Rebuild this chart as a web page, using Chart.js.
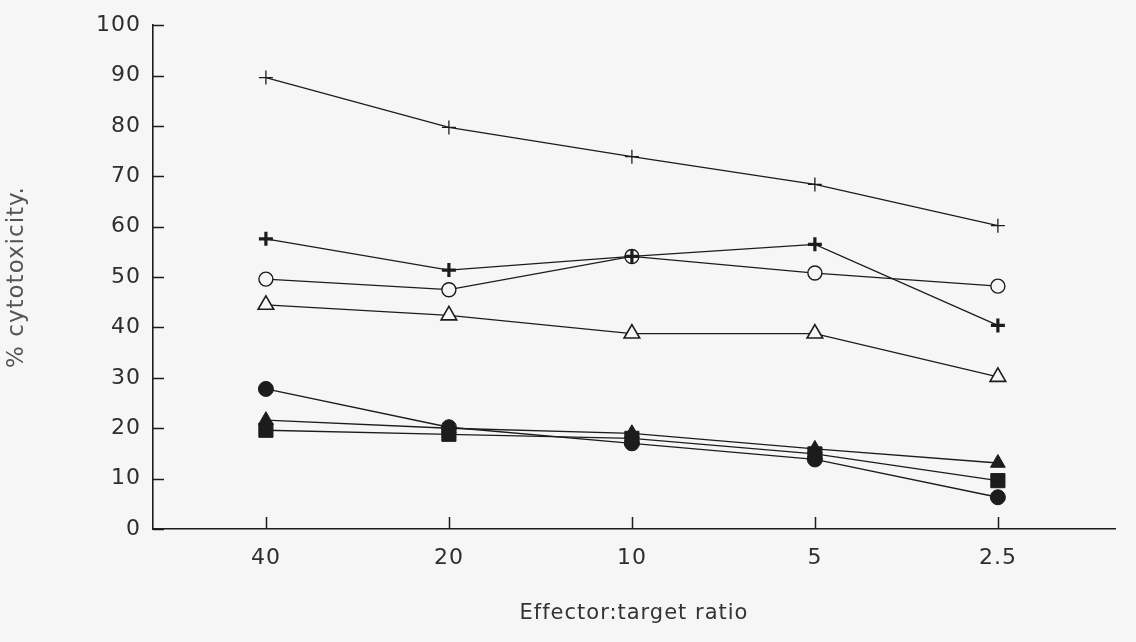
<!DOCTYPE html>
<html>
<head>
<meta charset="utf-8">
<script src="https://cdn.jsdelivr.net/npm/chart.js@4.4.1/dist/chart.umd.min.js"></script>
<style>
  html, body { margin: 0; padding: 0; background: #f6f6f6; }
  #wrap { width: 1136px; height: 642px; }
</style>
</head>
<body>
<div id="wrap"><canvas id="c" width="1136" height="642"></canvas></div>
<script>
// ---- data ----
const categories = ['40', '20', '10', '5', '2.5'];        // effector:target ratio
const yTicks = [0, 10, 20, 30, 40, 50, 60, 70, 80, 90, 100];
const thinPlus      = [89.6, 79.7, 73.9, 68.4, 60.2];
const boldPlus      = [57.6, 51.4, 54.1, 56.5, 40.4];
const openCircle    = [49.6, 47.5, 54.1, 50.8, 48.2];
const openTriangle  = [44.5, 42.4, 38.8, 38.8, 30.2];
const filledCircle  = [27.8, 20.2, 17.0, 13.8, 6.3];
const filledTriangle= [21.6, 20.0, 19.0, 15.9, 13.1];
const filledSquare  = [19.6, 18.8, 18.0, 14.9, 9.6];

const INK = '#1c1c1c';
const BG = '#f6f6f6';

function pts(arr) { return arr.map((v, i) => ({ x: i + 1, y: v })); }

function ds(label, arr, style, radius, filled, bw) {
  return {
    label, data: pts(arr),
    borderColor: INK, borderWidth: 1.3,
    pointStyle: style, pointRadius: radius, pointHoverRadius: radius,
    pointBackgroundColor: filled ? INK : BG,
    pointBorderColor: INK, pointBorderWidth: bw,
    tension: 0, fill: false
  };
}

const datasets = [
  ds('thin +', thinPlus, 'cross', 7, false, 1.3),
  ds('bold +', boldPlus, 'cross', 7, false, 3.2),
  ds('open circle', openCircle, 'circle', 7, false, 1.4),
  ds('open triangle', openTriangle, 'triangle', 9, false, 1.6),
  ds('filled circle', filledCircle, 'circle', 7.5, true, 1),
  ds('filled triangle', filledTriangle, 'triangle', 8.5, true, 1),
  ds('filled square', filledSquare, 'rect', 10, true, 1),
];

const spacing = {
  id: 'spacing',
  beforeDraw(chart) { chart.ctx.letterSpacing = '1px'; }
};

const innerTicks = {
  id: 'innerTicks',
  afterDraw(chart) {
    const ctx = chart.ctx;
    const xs = chart.scales.x, ys = chart.scales.y;
    const area = chart.chartArea;
    ctx.save();
    ctx.strokeStyle = INK;
    ctx.lineWidth = 1.5;
    ctx.beginPath();
    ys.ticks.forEach((t, i) => {
      const py = Math.round(ys.getPixelForTick(i)) + 0.5;
      ctx.moveTo(area.left, py); ctx.lineTo(area.left + 11, py);
    });
    xs.ticks.forEach((t, i) => {
      const px = Math.round(xs.getPixelForTick(i)) + 0.5;
      ctx.moveTo(px, area.bottom); ctx.lineTo(px, area.bottom - 12);
    });
    ctx.stroke();
    ctx.restore();
  }
};

new Chart(document.getElementById('c'), {
  type: 'line',
  data: { datasets },
  options: {
    responsive: false,
    animation: false,
    events: [],
    layout: { padding: { left: 0, top: 19, right: 21, bottom: 0 } },
    plugins: { legend: { display: false }, tooltip: { enabled: false } },
    scales: {
      x: {
        type: 'linear',
        min: 0.383, max: 5.64,
        afterFit(s) { s.height = 113; },
        afterBuildTicks(s) { s.ticks = categories.map((c, i) => ({ value: i + 1 })); },
        grid: { display: true, drawOnChartArea: false, drawTicks: false },
        border: { display: true, color: INK, width: 1.6 },
        ticks: {
          padding: 16, color: '#2e2e2e',
          font: { family: 'DejaVu Sans', size: 22 },
          callback: (v) => categories[Math.round(v) - 1] ?? '',
          maxRotation: 0, autoSkip: false
        },
        title: {
          display: true, text: 'Effector:target ratio', color: '#333',
          font: { family: 'DejaVu Sans', size: 21 },
          padding: { top: 4, bottom: 16 }
        }
      },
      y: {
        min: 0, max: 100,
        afterFit(s) { s.width = 153; },
        afterBuildTicks(s) { s.ticks = yTicks.map(v => ({ value: v })); },
        grid: { display: true, drawOnChartArea: false, drawTicks: false },
        border: { display: true, color: INK, width: 1.6 },
        ticks: {
          padding: 12, color: '#2e2e2e',
          font: { family: 'DejaVu Sans', size: 22 }
        },
        title: {
          display: true, text: '% cytotoxicity.', color: '#555',
          font: { family: 'DejaVu Sans', size: 23 },
          padding: { top: 3, bottom: 0 }
        }
      }
    }
  },
  plugins: [spacing, innerTicks]
});
</script>
</body>
</html>
